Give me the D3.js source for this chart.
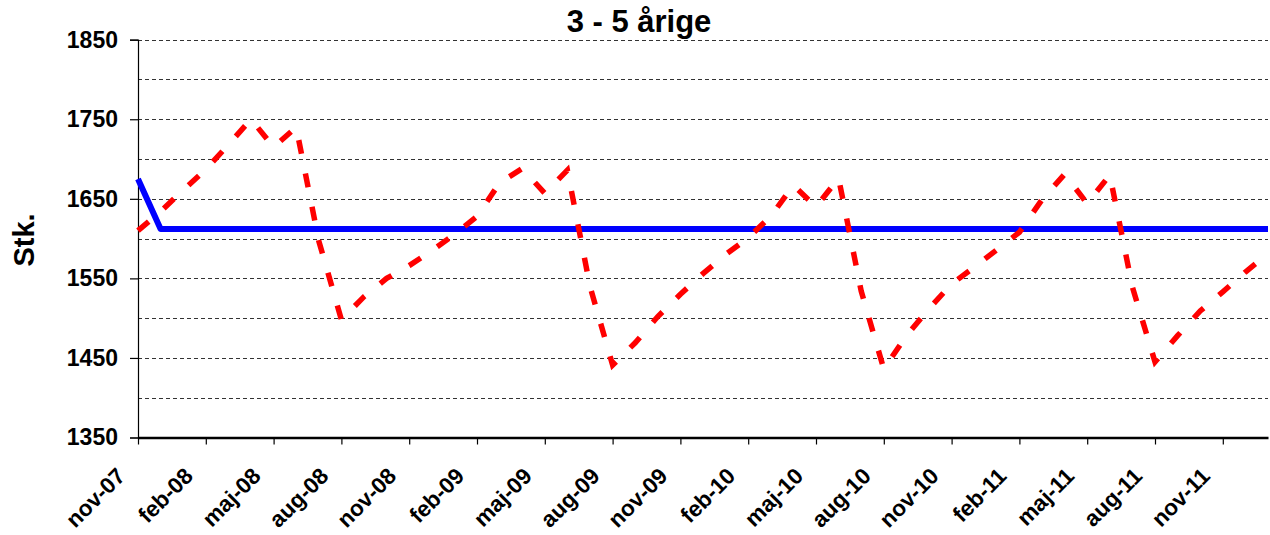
<!DOCTYPE html>
<html>
<head>
<meta charset="utf-8">
<script src="https://cdn.jsdelivr.net/npm/d3@7"></script>
<style>
  html, body { margin: 0; padding: 0; background: #fff; }
  svg { display: block; font-family: "Liberation Sans", Arial, sans-serif; }
</style>
</head>
<body>
<svg id="chart" width="1270" height="535"></svg>
<script>
// ---- data ----
const title = "3 - 5 årige";
const yTitle = "Stk.";
const months = [
  "nov-07","dec-07","jan-08","feb-08","mar-08","apr-08","maj-08","jun-08","jul-08","aug-08","sep-08","okt-08",
  "nov-08","dec-08","jan-09","feb-09","mar-09","apr-09","maj-09","jun-09","jul-09","aug-09","sep-09","okt-09",
  "nov-09","dec-09","jan-10","feb-10","mar-10","apr-10","maj-10","jun-10","jul-10","aug-10","sep-10","okt-10",
  "nov-10","dec-10","jan-11","feb-11","mar-11","apr-11","maj-11","jun-11","jul-11","aug-11","sep-11","okt-11",
  "nov-11","dec-11","jan-12"
];
const actual = [
  1610,1634,1661,1687,1718,1750,1715,1740,1597,1498,1527,1550,
  1566,1585,1605,1628,1670,1688,1657,1686,1540,1441,1469,1502,
  1530,1556,1580,1601,1628,1667,1640,1676,1534,1436,1478,1512,
  1543,1564,1586,1608,1649,1681,1644,1680,1539,1445,1478,1509,
  1533,1558,1581
];
const norm = [
  1675,1612,1612,1612,1612,1612,1612,1612,1612,1612,1612,1612,
  1612,1612,1612,1612,1612,1612,1612,1612,1612,1612,1612,1612,
  1612,1612,1612,1612,1612,1612,1612,1612,1612,1612,1612,1612,
  1612,1612,1612,1612,1612,1612,1612,1612,1612,1612,1612,1612,
  1612,1612,1612
];
const yTickValues = [1350,1450,1550,1650,1750,1850];
const yGridValues = [1400,1450,1500,1550,1600,1650,1700,1750,1800,1850];
const xTickLabels = months.filter((m, i) => i % 3 === 0);

// ---- layout ----
const svg = d3.select("#chart");
const mLeft = 138, mRight = 1268, mTop = 39.7, mBottom = 437.5;

const x = d3.scalePoint().domain(months).range([mLeft, mRight]).padding(0);
const y = d3.scaleLinear().domain([1350, 1850]).range([mBottom, mTop]);

// gridlines
svg.append("g").selectAll("line").data(yGridValues).join("line")
  .attr("x1", mLeft).attr("x2", mRight)
  .attr("y1", d => Math.round(y(d)) + 0.5).attr("y2", d => Math.round(y(d)) + 0.5)
  .attr("stroke", "#333").attr("stroke-width", 1.2).attr("stroke-dasharray", "4,3");

// y axis
const yAxis = svg.append("g").attr("transform", `translate(${mLeft},0)`)
  .call(d3.axisLeft(y).tickValues(yTickValues).tickSize(8).tickPadding(12).tickFormat(d3.format("d")));
yAxis.select(".domain").attr("stroke", "#000").attr("stroke-width", 1.2);
yAxis.selectAll(".tick line").attr("stroke", "#000").attr("stroke-width", 1.2);
yAxis.selectAll(".tick text").attr("font-size", 23).attr("font-weight", "bold")
  .attr("fill", "#000").attr("font-family", "'Liberation Sans', Arial, sans-serif");

// x axis
const xAxis = svg.append("g").attr("transform", `translate(0,${mBottom})`)
  .call(d3.axisBottom(x).tickValues(xTickLabels).tickSize(7).tickSizeOuter(0).tickFormat(d => ""));
xAxis.select(".domain").attr("stroke", "#000").attr("stroke-width", 2.5);
xAxis.selectAll(".tick line").attr("stroke", "#000").attr("stroke-width", 1.2);
xAxis.selectAll(".tick").append("text")
  .text(d => d)
  .attr("text-anchor", "end")
  .attr("transform", "translate(-12,40) rotate(-45)")
  .attr("font-size", 22.5).attr("font-weight", "bold").attr("fill", "#000")
  .attr("font-family", "'Liberation Sans', Arial, sans-serif");

// lines
const line = d3.line().x((d, i) => x(months[i])).y(d => y(d));
svg.append("path").datum(norm)
  .attr("d", line).attr("fill", "none")
  .attr("stroke", "#0000ff").attr("stroke-width", 6).attr("stroke-linejoin", "round");
svg.append("path").datum(actual)
  .attr("d", line).attr("fill", "none")
  .attr("stroke", "#ff0000").attr("stroke-width", 5.5).attr("stroke-dasharray", "14,20");

// titles
svg.append("text").text(title)
  .attr("x", 639).attr("y", 32).attr("text-anchor", "middle")
  .attr("font-size", 31).attr("font-weight", "bold").attr("fill", "#000");
svg.append("text").text(yTitle)
  .attr("transform", "translate(34,240) rotate(-90)").attr("text-anchor", "middle")
  .attr("font-size", 29).attr("font-weight", "bold").attr("fill", "#000");
</script>
</body>
</html>
